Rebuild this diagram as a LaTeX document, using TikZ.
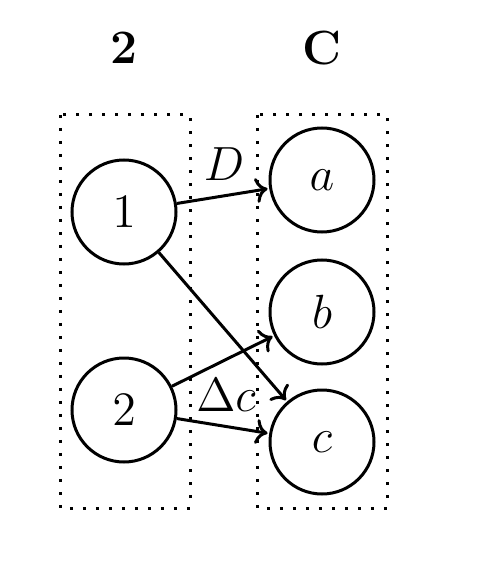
\documentclass[tikz,border=0pt]{standalone}
\usepackage{amsmath,amssymb}
\usepackage{tikz}
\usetikzlibrary{arrows.meta,positioning}
\tikzset{
  elem/.style={draw,circle,line width=0.9pt,minimum size=31.2pt,inner sep=0pt,font=\Large},
  grp/.style={line width=0.9pt,dash pattern=on 0.9pt off 3pt},
  ar/.style={->,line width=0.9pt,shorten >=0.5pt},
  ttl/.style={font=\Large\bfseries}
}
\begin{document}
\begin{tikzpicture}[x=0.3pt,y=-0.3pt]
\useasboundingbox (0,0) rectangle (500,572);
% groups
\draw[grp] (60,115) rectangle (190,508);
\draw[grp] (257,115) rectangle (387,508);
\node[ttl] (tl) at (124,48) {2};
\node[ttl] (tr) at (322,48) {C};
% elements
\node[elem] (n1) at (124,212) {$1$};
\node[elem] (n2) at (124,410) {$2$};
\node[elem] (a) at (322,180) {$a$};
\node[elem] (b) at (322,312) {$b$};
\node[elem] (c) at (322,442) {$c$};
% maps
\draw[ar] (n1) -- (a);
\draw[ar] (n1) -- (c);
\draw[ar] (n2) -- (b);
\draw[ar] (n2) -- (c);
\node[font=\Large] (lD) at (224,164) {$D$};
\node[font=\Large] (lDc) at (226,395) {$\Delta c$};
\end{tikzpicture}
\end{document}
